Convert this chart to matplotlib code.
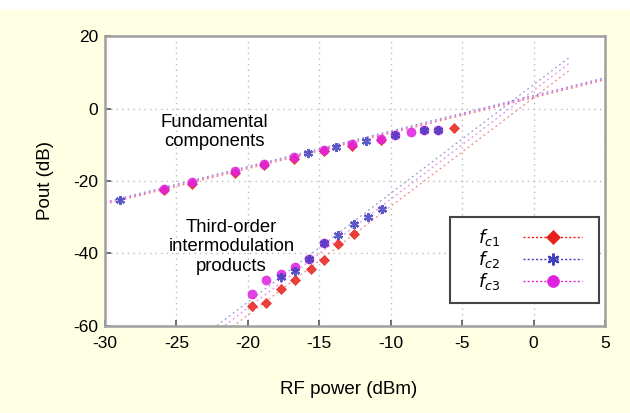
import numpy as np
import matplotlib
matplotlib.use("Agg")
import matplotlib.pyplot as plt
from matplotlib.patches import Rectangle
from matplotlib.legend_handler import HandlerLine2D

plt.rcParams['font.family'] = ['Liberation Sans', 'DejaVu Sans']
plt.rcParams['axes.unicode_minus'] = False

# Fundamental output power (dB) vs RF input power (dBm)
fund_x_c1 = [-25.9, -23.9, -20.9, -18.9, -16.8, -14.7, -12.7, -10.7, -5.6]
fund_y_c1 = [-22.6, -20.8, -17.7, -15.6, -13.8, -11.8, -10.3, -8.6, -5.3]
fund_x_c2 = [-28.95, -15.8, -13.8, -11.7, -9.7, -7.7, -6.7]
fund_y_c2 = [-25.3, -12.4, -10.6, -9.0, -7.2, -5.8, -5.8]
fund_x_c3 = [-25.9, -23.9, -20.9, -18.9, -16.8, -14.7, -12.7, -10.7, -9.7, -8.6, -7.7, -6.7]
fund_y_c3 = [-22.2, -20.3, -17.3, -15.3, -13.5, -11.5, -9.9, -8.3, -7.2, -6.5, -5.8, -5.8]

# Third-order intermodulation products
im3_x_c1 = [-19.7, -18.7, -17.7, -16.7, -15.6, -14.7, -13.7, -12.6]
im3_y_c1 = [-54.5, -53.6, -49.9, -47.4, -44.4, -41.7, -37.5, -34.6]
im3_x_c2 = [-17.7, -16.7, -15.7, -14.7, -13.7, -12.6, -11.6, -10.6]
im3_y_c2 = [-46.4, -44.7, -41.4, -37.0, -34.9, -32.0, -29.9, -27.7]
im3_x_c3 = [-19.7, -18.7, -17.7, -16.7, -15.7, -14.7]
im3_y_c3 = [-51.1, -47.4, -45.6, -43.7, -41.4, -37.2]

# Linear extrapolations (slope, intercept) of each carrier
fund_fit = {'c1': (0.98, 3.0), 'c2': (0.98, 3.6), 'c3': (0.98, 3.3)}
im3_fit = {'c1': (3.0, 3.0), 'c2': (3.0, 6.6), 'c3': (3.0, 5.0)}

labels = [r'$\quad f_{c1}$', r'$\quad f_{c2}$', r'$\quad f_{c3}$']
colors = {'c1': '#e8201a', 'c2': '#4040c0', 'c3': '#e020e0'}
markers = {'c1': 'D', 'c2': (6, 2, 0), 'c3': 'o'}
msizes = {'c1': 5.5, 'c2': 6.5, 'c3': 6.5}


class ShortLineHandler(HandlerLine2D):
    """Legend sample line that stops short of the frame, marker left of centre."""

    def get_xdata(self, legend, xdescent, ydescent, width, height, fontsize):
        x0 = -xdescent
        return [x0, x0 + 0.91 * width], [x0 + 0.39 * width]


fig = plt.figure(figsize=(6.3, 4.13), dpi=100)
fig.patch.set_facecolor('#FFFFE4')
fig.patches.append(Rectangle((0, 0.976), 1, 0.03, transform=fig.transFigure,
                             facecolor='white', edgecolor='none', zorder=-1))
ax = fig.add_axes([0.1667, 0.2107, 0.7937, 0.7021])
ax.set_facecolor('white')

xf = np.array([-30.0, 5.0])
xi = np.array([-23.0, 2.6])
for key in ['c1', 'c2', 'c3']:
    s, b = fund_fit[key]
    ax.plot(xf, s * xf + b, ls=(0, (1.5, 2.5)), color=colors[key], lw=0.9, alpha=0.55, zorder=2)
    s, b = im3_fit[key]
    ax.plot(xi, s * xi + b, ls=(0, (1.5, 2.5)), color=colors[key], lw=0.9, alpha=0.55, zorder=2)

series = {
    'c1': (fund_x_c1 + im3_x_c1, fund_y_c1 + im3_y_c1),
    'c2': (fund_x_c2 + im3_x_c2, fund_y_c2 + im3_y_c2),
    'c3': (fund_x_c3 + im3_x_c3, fund_y_c3 + im3_y_c3),
}
for key in ['c1', 'c3', 'c2']:
    xs, ys = series[key]
    mew = 1.6 if key == 'c2' else 0.5
    ax.plot(xs, ys, ls='none', marker=markers[key], ms=msizes[key],
            color=colors[key], mec=colors[key], mew=mew, alpha=0.85, zorder=3)

handles = []
for key, lab in zip(['c1', 'c2', 'c3'], labels):
    mew = 1.6 if key == 'c2' else 0.5
    h, = ax.plot([], [], ls=(0, (1.5, 1.5)), lw=1.0, marker=markers[key], ms=msizes[key] + 2,
                 color=colors[key], mew=mew, label=lab)
    handles.append(h)

ax.set_xlim(-30, 5)
ax.set_ylim(-60, 20)
ax.set_xticks([-30, -25, -20, -15, -10, -5, 0, 5])
ax.set_yticks([-60, -40, -20, 0, 20])
ax.tick_params(direction='in', length=4, width=1.2, color='#555555', labelsize=12.5)
ax.tick_params(axis='x', pad=7)
ax.tick_params(axis='y', pad=5)
ax.grid(True, ls=(0, (1, 3)), color='#bbbbbb', lw=1.0)
for sp in ax.spines.values():
    sp.set_color('#a0a0a0')
    sp.set_linewidth(1.8)

ax.set_xlabel('RF power (dBm)', fontsize=13.5, labelpad=19)
ax.xaxis.set_label_coords(0.488, -0.19)
ax.set_ylabel('Pout (dB)', fontsize=13.5, labelpad=14)

ax.text(-22.35, -6.5, 'Fundamental\ncomponents', fontsize=13.3, ha='center', va='center',
        linespacing=1.2, zorder=4)
ax.text(-21.15, -38.2, 'Third-order\nintermodulation\nproducts', fontsize=13.3, ha='center',
        va='center', linespacing=1.2, zorder=4)

leg = ax.legend(handles=handles, loc='lower right', bbox_to_anchor=(0.988, 0.079),
                markerfirst=False, fancybox=False, framealpha=1, edgecolor='#444444',
                fontsize=13, handlelength=3.6, borderpad=0.6, labelspacing=0.05,
                handletextpad=1.25, borderaxespad=0,
                handler_map={h: ShortLineHandler() for h in handles})
leg.get_frame().set_linewidth(1.5)

fig.savefig('out.png', dpi=100)
